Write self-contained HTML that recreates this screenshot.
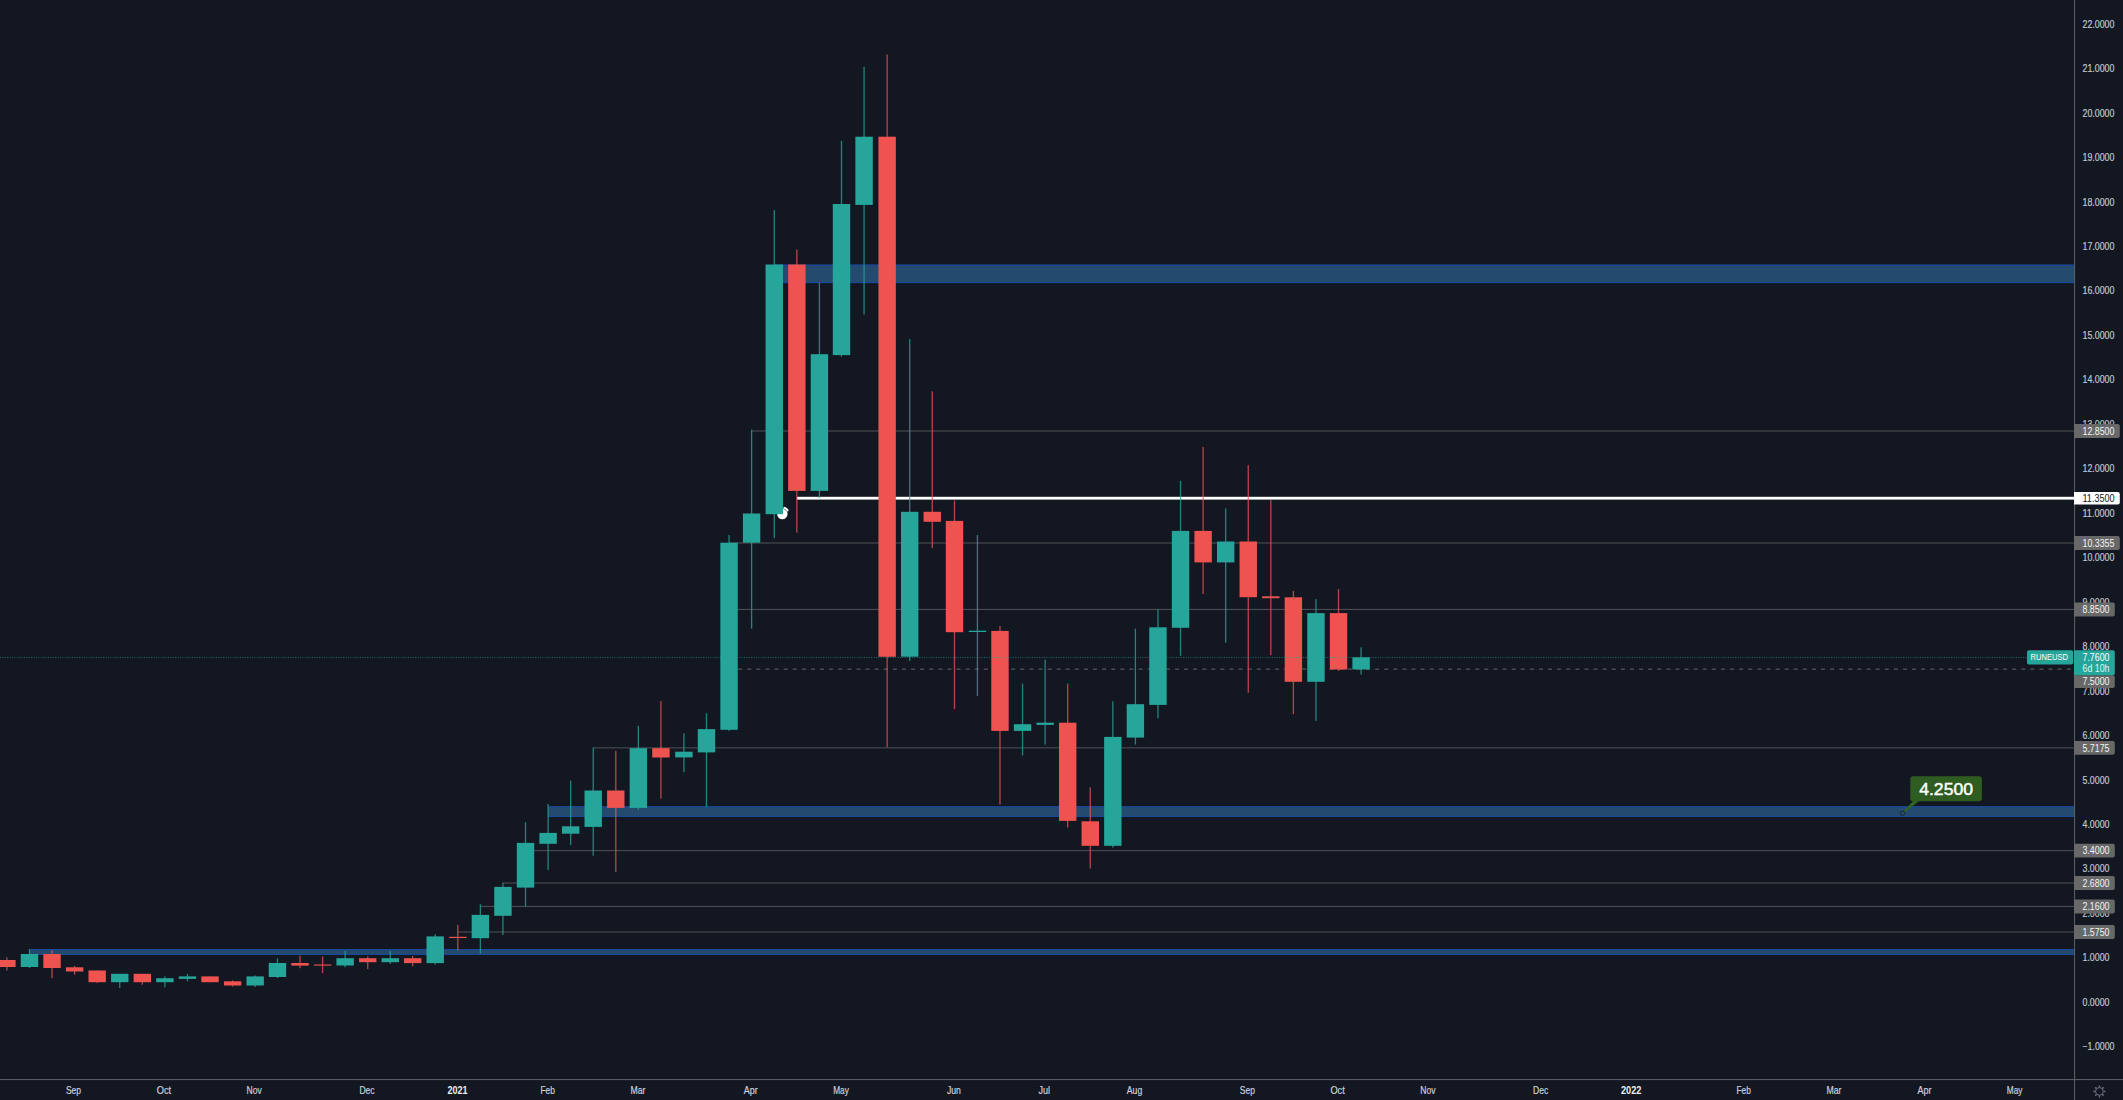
<!DOCTYPE html>
<html lang="en"><head><meta charset="utf-8"><title>RUNEUSD chart</title>
<style>
html,body{margin:0;padding:0;background:#131722;}
body{width:2123px;height:1100px;overflow:hidden;position:relative;font-family:"Liberation Sans",sans-serif;}
svg{position:absolute;left:0;top:0;display:block}
text{font-family:"Liberation Sans",sans-serif;}
.ax{font-size:10.4px;fill:#c1c4cc}
.lb{font-size:9.6px;fill:#f4f4f4}
.tm{font-size:10.3px;fill:#c6c9d0}
.tb{font-size:10.3px;fill:#e6e8ec;font-weight:bold}
</style></head><body>
<svg width="2123" height="1100" viewBox="0 0 2123 1100">
<rect x="0" y="0" width="2123" height="1100" fill="#131722"/>

<g id="zones">
<rect x="774.3" y="264.60" width="1299.7" height="18.50" fill="#244a6e"/>
<rect x="774.3" y="264.60" width="1299.7" height="1.30" fill="#18489a"/>
<rect x="774.3" y="282.00" width="1299.7" height="1.10" fill="#18489a"/>
<rect x="548.1" y="806.25" width="1525.9" height="10.75" fill="#244a6e"/>
<rect x="548.1" y="806.25" width="1525.9" height="1.10" fill="#18489a"/>
<rect x="548.1" y="815.90" width="1525.9" height="1.10" fill="#18489a"/>
<rect x="29.5" y="949.00" width="2044.5" height="6.00" fill="#244a6e"/>
<rect x="29.5" y="949.00" width="2044.5" height="1.05" fill="#18489a"/>
<rect x="29.5" y="953.95" width="2044.5" height="1.05" fill="#18489a"/>
</g>
<g id="hlines">
<rect x="751.6" y="430.45" width="1322.4" height="1.1" fill="#4b4c51"/>
<rect x="729.0" y="542.45" width="1345.0" height="1.1" fill="#4b4c51"/>
<rect x="729.0" y="608.90" width="1345.0" height="1.1" fill="#4b4c51"/>
<rect x="593.2" y="747.30" width="1480.8" height="1.1" fill="#4b4c51"/>
<rect x="525.5" y="850.05" width="1548.5" height="1.1" fill="#4b4c51"/>
<rect x="502.9" y="882.45" width="1571.1" height="1.1" fill="#4b4c51"/>
<rect x="480.4" y="905.90" width="1593.6" height="1.1" fill="#4b4c51"/>
<rect x="457.8" y="931.45" width="1616.2" height="1.1" fill="#4b4c51"/>
<line x1="729.0" y1="669.10" x2="2074.0" y2="669.10" stroke="#56575c" stroke-width="1.3" stroke-dasharray="4.1 5"/>
</g>
<rect x="796.9" y="496.8" width="1277.2" height="2.8" fill="#ffffff"/>
<g id="cursor"><circle cx="782.35" cy="513.95" r="5.2" fill="#ffffff"/><path d="M784.5 508.0 A6.0 6.0 0 0 1 787.4 510.2" fill="none" stroke="#ffffff" stroke-width="2.3" stroke-linecap="round"/><path d="M784.3 509.0 A5.0 5.0 0 0 1 786.8 511.0" fill="none" stroke="#70737c" stroke-width="0.7"/></g>
<g id="candles">
<rect x="6.25" y="957.3" width="1.3" height="13.2" fill="#ef5350" opacity="0.76"/>
<rect x="-1.80" y="960.0" width="17.4" height="7.0" fill="#ef5350"/>
<rect x="28.82" y="949.0" width="1.3" height="19.0" fill="#26a69a" opacity="0.76"/>
<rect x="20.77" y="954.0" width="17.4" height="13.0" fill="#26a69a"/>
<rect x="51.39" y="950.0" width="1.3" height="28.2" fill="#ef5350" opacity="0.76"/>
<rect x="43.34" y="954.0" width="17.4" height="14.0" fill="#ef5350"/>
<rect x="73.96" y="966.0" width="1.3" height="8.7" fill="#ef5350" opacity="0.76"/>
<rect x="65.91" y="967.3" width="17.4" height="4.2" fill="#ef5350"/>
<rect x="96.53" y="970.5" width="1.3" height="12.5" fill="#ef5350" opacity="0.76"/>
<rect x="88.48" y="970.5" width="17.4" height="11.7" fill="#ef5350"/>
<rect x="119.10" y="973.8" width="1.3" height="14.2" fill="#26a69a" opacity="0.76"/>
<rect x="111.05" y="973.8" width="17.4" height="8.4" fill="#26a69a"/>
<rect x="141.67" y="973.8" width="1.3" height="10.9" fill="#ef5350" opacity="0.76"/>
<rect x="133.62" y="973.8" width="17.4" height="8.4" fill="#ef5350"/>
<rect x="164.24" y="976.4" width="1.3" height="10.9" fill="#26a69a" opacity="0.76"/>
<rect x="156.19" y="978.2" width="17.4" height="4.0" fill="#26a69a"/>
<rect x="186.81" y="973.8" width="1.3" height="7.5" fill="#26a69a" opacity="0.76"/>
<rect x="178.76" y="976.4" width="17.4" height="2.5" fill="#26a69a"/>
<rect x="209.38" y="976.4" width="1.3" height="5.8" fill="#ef5350" opacity="0.76"/>
<rect x="201.33" y="976.4" width="17.4" height="5.8" fill="#ef5350"/>
<rect x="231.95" y="980.4" width="1.3" height="6.1" fill="#ef5350" opacity="0.76"/>
<rect x="223.90" y="981.3" width="17.4" height="4.2" fill="#ef5350"/>
<rect x="254.52" y="975.5" width="1.3" height="11.5" fill="#26a69a" opacity="0.76"/>
<rect x="246.47" y="976.4" width="17.4" height="9.1" fill="#26a69a"/>
<rect x="276.79" y="958.2" width="1.3" height="19.8" fill="#26a69a" opacity="0.76"/>
<rect x="268.74" y="963.0" width="17.4" height="14.0" fill="#26a69a"/>
<rect x="299.36" y="955.6" width="1.3" height="12.6" fill="#ef5350" opacity="0.76"/>
<rect x="291.31" y="963.0" width="17.4" height="2.6" fill="#ef5350"/>
<rect x="321.93" y="956.4" width="1.3" height="16.6" fill="#ef5350" opacity="0.76"/>
<rect x="313.88" y="964.5" width="17.4" height="1.1" fill="#ef5350"/>
<rect x="344.50" y="951.0" width="1.3" height="16.3" fill="#26a69a" opacity="0.76"/>
<rect x="336.45" y="958.2" width="17.4" height="7.3" fill="#26a69a"/>
<rect x="367.07" y="956.4" width="1.3" height="12.7" fill="#ef5350" opacity="0.76"/>
<rect x="359.02" y="958.2" width="17.4" height="4.0" fill="#ef5350"/>
<rect x="389.64" y="950.9" width="1.3" height="13.1" fill="#26a69a" opacity="0.76"/>
<rect x="381.59" y="958.2" width="17.4" height="4.0" fill="#26a69a"/>
<rect x="412.01" y="956.0" width="1.3" height="10.4" fill="#ef5350" opacity="0.76"/>
<rect x="403.96" y="958.2" width="17.4" height="4.9" fill="#ef5350"/>
<rect x="434.58" y="934.2" width="1.3" height="30.3" fill="#26a69a" opacity="0.76"/>
<rect x="426.53" y="936.4" width="17.4" height="26.7" fill="#26a69a"/>
<rect x="457.15" y="924.9" width="1.3" height="25.6" fill="#ef5350" opacity="0.76"/>
<rect x="449.10" y="936.8" width="17.4" height="1.2" fill="#ef5350"/>
<rect x="479.72" y="904.2" width="1.3" height="49.4" fill="#26a69a" opacity="0.76"/>
<rect x="471.67" y="914.9" width="17.4" height="23.3" fill="#26a69a"/>
<rect x="502.29" y="882.7" width="1.3" height="52.2" fill="#26a69a" opacity="0.76"/>
<rect x="494.24" y="886.9" width="17.4" height="28.9" fill="#26a69a"/>
<rect x="524.86" y="822.2" width="1.3" height="84.2" fill="#26a69a" opacity="0.76"/>
<rect x="516.81" y="842.9" width="17.4" height="44.7" fill="#26a69a"/>
<rect x="547.43" y="804.0" width="1.3" height="66.0" fill="#26a69a" opacity="0.76"/>
<rect x="539.38" y="832.9" width="17.4" height="10.9" fill="#26a69a"/>
<rect x="570.00" y="780.6" width="1.3" height="64.5" fill="#26a69a" opacity="0.76"/>
<rect x="561.95" y="826.3" width="17.4" height="7.4" fill="#26a69a"/>
<rect x="592.57" y="747.6" width="1.3" height="108.2" fill="#26a69a" opacity="0.76"/>
<rect x="584.52" y="790.5" width="17.4" height="36.4" fill="#26a69a"/>
<rect x="615.14" y="750.9" width="1.3" height="120.9" fill="#ef5350" opacity="0.76"/>
<rect x="607.09" y="790.5" width="17.4" height="17.4" fill="#ef5350"/>
<rect x="637.71" y="725.8" width="1.3" height="83.8" fill="#26a69a" opacity="0.76"/>
<rect x="629.66" y="748.2" width="17.4" height="59.7" fill="#26a69a"/>
<rect x="660.28" y="701.1" width="1.3" height="97.6" fill="#ef5350" opacity="0.76"/>
<rect x="652.23" y="748.2" width="17.4" height="9.3" fill="#ef5350"/>
<rect x="683.25" y="733.3" width="1.3" height="38.9" fill="#26a69a" opacity="0.76"/>
<rect x="675.20" y="751.7" width="17.4" height="5.7" fill="#26a69a"/>
<rect x="705.82" y="713.3" width="1.3" height="93.6" fill="#26a69a" opacity="0.76"/>
<rect x="697.77" y="729.1" width="17.4" height="23.3" fill="#26a69a"/>
<rect x="728.39" y="534.9" width="1.3" height="196.1" fill="#26a69a" opacity="0.76"/>
<rect x="720.34" y="542.7" width="17.4" height="187.1" fill="#26a69a"/>
<rect x="750.96" y="429.6" width="1.3" height="199.1" fill="#26a69a" opacity="0.76"/>
<rect x="742.91" y="513.5" width="17.4" height="29.2" fill="#26a69a"/>
<rect x="773.63" y="210.0" width="1.3" height="328.2" fill="#26a69a" opacity="0.76"/>
<rect x="765.58" y="264.5" width="17.4" height="249.7" fill="#26a69a"/>
<rect x="796.20" y="249.6" width="1.3" height="283.1" fill="#ef5350" opacity="0.76"/>
<rect x="788.15" y="264.5" width="17.4" height="226.4" fill="#ef5350"/>
<rect x="818.77" y="282.7" width="1.3" height="215.5" fill="#26a69a" opacity="0.76"/>
<rect x="810.72" y="354.2" width="17.4" height="136.7" fill="#26a69a"/>
<rect x="840.84" y="140.9" width="1.3" height="215.8" fill="#26a69a" opacity="0.76"/>
<rect x="832.79" y="204.0" width="17.4" height="151.1" fill="#26a69a"/>
<rect x="863.41" y="66.9" width="1.3" height="247.6" fill="#26a69a" opacity="0.76"/>
<rect x="855.36" y="136.7" width="17.4" height="68.2" fill="#26a69a"/>
<rect x="886.48" y="54.5" width="1.3" height="692.8" fill="#ef5350" opacity="0.76"/>
<rect x="878.43" y="136.7" width="17.4" height="520.1" fill="#ef5350"/>
<rect x="909.05" y="339.1" width="1.3" height="321.8" fill="#26a69a" opacity="0.76"/>
<rect x="901.00" y="511.8" width="17.4" height="144.9" fill="#26a69a"/>
<rect x="931.62" y="391.3" width="1.3" height="156.9" fill="#ef5350" opacity="0.76"/>
<rect x="923.57" y="511.8" width="17.4" height="10.0" fill="#ef5350"/>
<rect x="953.84" y="500.4" width="1.3" height="208.7" fill="#ef5350" opacity="0.76"/>
<rect x="945.79" y="520.9" width="17.4" height="111.3" fill="#ef5350"/>
<rect x="976.76" y="534.9" width="1.3" height="161.1" fill="#26a69a" opacity="0.76"/>
<rect x="968.71" y="630.7" width="17.4" height="1.3" fill="#26a69a"/>
<rect x="999.33" y="626.0" width="1.3" height="178.5" fill="#ef5350" opacity="0.76"/>
<rect x="991.28" y="630.9" width="17.4" height="100.0" fill="#ef5350"/>
<rect x="1021.90" y="683.6" width="1.3" height="71.9" fill="#26a69a" opacity="0.76"/>
<rect x="1013.85" y="724.2" width="17.4" height="6.7" fill="#26a69a"/>
<rect x="1044.47" y="659.6" width="1.3" height="84.9" fill="#26a69a" opacity="0.76"/>
<rect x="1036.42" y="722.7" width="17.4" height="2.2" fill="#26a69a"/>
<rect x="1067.04" y="683.6" width="1.3" height="144.0" fill="#ef5350" opacity="0.76"/>
<rect x="1058.99" y="722.7" width="17.4" height="98.2" fill="#ef5350"/>
<rect x="1089.61" y="787.3" width="1.3" height="81.2" fill="#ef5350" opacity="0.76"/>
<rect x="1081.56" y="821.3" width="17.4" height="24.5" fill="#ef5350"/>
<rect x="1112.18" y="701.3" width="1.3" height="146.3" fill="#26a69a" opacity="0.76"/>
<rect x="1104.13" y="736.9" width="17.4" height="108.9" fill="#26a69a"/>
<rect x="1134.75" y="628.7" width="1.3" height="115.8" fill="#26a69a" opacity="0.76"/>
<rect x="1126.70" y="704.2" width="17.4" height="33.4" fill="#26a69a"/>
<rect x="1157.32" y="609.6" width="1.3" height="108.6" fill="#26a69a" opacity="0.76"/>
<rect x="1149.27" y="627.3" width="17.4" height="77.6" fill="#26a69a"/>
<rect x="1179.89" y="480.9" width="1.3" height="174.9" fill="#26a69a" opacity="0.76"/>
<rect x="1171.84" y="530.9" width="17.4" height="96.9" fill="#26a69a"/>
<rect x="1202.46" y="446.9" width="1.3" height="147.1" fill="#ef5350" opacity="0.76"/>
<rect x="1194.41" y="530.9" width="17.4" height="31.5" fill="#ef5350"/>
<rect x="1225.03" y="508.3" width="1.3" height="134.4" fill="#26a69a" opacity="0.76"/>
<rect x="1216.98" y="541.5" width="17.4" height="20.9" fill="#26a69a"/>
<rect x="1247.60" y="465.1" width="1.3" height="227.6" fill="#ef5350" opacity="0.76"/>
<rect x="1239.55" y="541.5" width="17.4" height="55.7" fill="#ef5350"/>
<rect x="1270.17" y="500.0" width="1.3" height="155.1" fill="#ef5350" opacity="0.76"/>
<rect x="1262.12" y="596.3" width="17.4" height="1.9" fill="#ef5350"/>
<rect x="1292.74" y="591.0" width="1.3" height="123.2" fill="#ef5350" opacity="0.76"/>
<rect x="1284.69" y="597.3" width="17.4" height="84.5" fill="#ef5350"/>
<rect x="1315.31" y="599.1" width="1.3" height="121.8" fill="#26a69a" opacity="0.76"/>
<rect x="1307.26" y="613.1" width="17.4" height="68.7" fill="#26a69a"/>
<rect x="1337.88" y="589.1" width="1.3" height="81.8" fill="#ef5350" opacity="0.76"/>
<rect x="1329.83" y="613.1" width="17.4" height="56.4" fill="#ef5350"/>
<rect x="1360.45" y="647.3" width="1.3" height="27.2" fill="#26a69a" opacity="0.76"/>
<rect x="1352.40" y="657.3" width="17.4" height="12.2" fill="#26a69a"/>
</g>
<line x1="0" y1="657.45" x2="2027" y2="657.45" stroke="#26a69a" stroke-width="1" stroke-dasharray="1 1.4" opacity="0.62"/>
<g id="callout">
<path d="M1913.6 800.5 L1919.8 800.5 L1903.3 813.6 L1902.2 812.7 Z" fill="#2d6522"/>
<rect x="1910.3" y="776.35" width="71.6" height="24.9" rx="3" ry="3" fill="#2f5c20"/>
<circle cx="1902.5" cy="813.3" r="2.2" fill="none" stroke="#172742" stroke-width="1"/>
<text transform="translate(1919.20 794.80) scale(1.0533 1)" font-size="16.7" fill="#ffffff" stroke="#ffffff" stroke-width="0.45" stroke-linejoin="round">4.2500</text>
</g>
<rect x="0" y="1079" width="2123" height="1.1" fill="#5a5b60"/>
<rect x="2074.0" y="0" width="1.1" height="1100" fill="#5a5b60"/>
<g id="pticks">
<text transform="translate(2082.50 1050.26) scale(0.8698 1)" font-size="10.1" fill="#c4c7ce" stroke="#c4c7ce" stroke-width="0.18">−1.0000</text>
<text transform="translate(2082.50 1005.80) scale(0.8740 1)" font-size="10.1" fill="#c4c7ce" stroke="#c4c7ce" stroke-width="0.18">0.0000</text>
<text transform="translate(2082.50 961.34) scale(0.8740 1)" font-size="10.1" fill="#c4c7ce" stroke="#c4c7ce" stroke-width="0.18">1.0000</text>
<text transform="translate(2082.50 916.88) scale(0.8740 1)" font-size="10.1" fill="#c4c7ce" stroke="#c4c7ce" stroke-width="0.18">2.0000</text>
<text transform="translate(2082.50 872.42) scale(0.8740 1)" font-size="10.1" fill="#c4c7ce" stroke="#c4c7ce" stroke-width="0.18">3.0000</text>
<text transform="translate(2082.50 827.96) scale(0.8740 1)" font-size="10.1" fill="#c4c7ce" stroke="#c4c7ce" stroke-width="0.18">4.0000</text>
<text transform="translate(2082.50 783.50) scale(0.8740 1)" font-size="10.1" fill="#c4c7ce" stroke="#c4c7ce" stroke-width="0.18">5.0000</text>
<text transform="translate(2082.50 739.04) scale(0.8740 1)" font-size="10.1" fill="#c4c7ce" stroke="#c4c7ce" stroke-width="0.18">6.0000</text>
<text transform="translate(2082.50 694.58) scale(0.8740 1)" font-size="10.1" fill="#c4c7ce" stroke="#c4c7ce" stroke-width="0.18">7.0000</text>
<text transform="translate(2082.50 650.12) scale(0.8740 1)" font-size="10.1" fill="#c4c7ce" stroke="#c4c7ce" stroke-width="0.18">8.0000</text>
<text transform="translate(2082.50 605.66) scale(0.8740 1)" font-size="10.1" fill="#c4c7ce" stroke="#c4c7ce" stroke-width="0.18">9.0000</text>
<text transform="translate(2082.50 561.20) scale(0.8765 1)" font-size="10.1" fill="#c4c7ce" stroke="#c4c7ce" stroke-width="0.18">10.0000</text>
<text transform="translate(2082.50 516.74) scale(0.8949 1)" font-size="10.1" fill="#c4c7ce" stroke="#c4c7ce" stroke-width="0.18">11.0000</text>
<text transform="translate(2082.50 472.28) scale(0.8765 1)" font-size="10.1" fill="#c4c7ce" stroke="#c4c7ce" stroke-width="0.18">12.0000</text>
<text transform="translate(2082.50 427.82) scale(0.8765 1)" font-size="10.1" fill="#c4c7ce" stroke="#c4c7ce" stroke-width="0.18">13.0000</text>
<text transform="translate(2082.50 383.36) scale(0.8765 1)" font-size="10.1" fill="#c4c7ce" stroke="#c4c7ce" stroke-width="0.18">14.0000</text>
<text transform="translate(2082.50 338.90) scale(0.8765 1)" font-size="10.1" fill="#c4c7ce" stroke="#c4c7ce" stroke-width="0.18">15.0000</text>
<text transform="translate(2082.50 294.44) scale(0.8765 1)" font-size="10.1" fill="#c4c7ce" stroke="#c4c7ce" stroke-width="0.18">16.0000</text>
<text transform="translate(2082.50 249.98) scale(0.8765 1)" font-size="10.1" fill="#c4c7ce" stroke="#c4c7ce" stroke-width="0.18">17.0000</text>
<text transform="translate(2082.50 205.52) scale(0.8765 1)" font-size="10.1" fill="#c4c7ce" stroke="#c4c7ce" stroke-width="0.18">18.0000</text>
<text transform="translate(2082.50 161.06) scale(0.8765 1)" font-size="10.1" fill="#c4c7ce" stroke="#c4c7ce" stroke-width="0.18">19.0000</text>
<text transform="translate(2082.50 116.60) scale(0.8765 1)" font-size="10.1" fill="#c4c7ce" stroke="#c4c7ce" stroke-width="0.18">20.0000</text>
<text transform="translate(2082.50 72.14) scale(0.8765 1)" font-size="10.1" fill="#c4c7ce" stroke="#c4c7ce" stroke-width="0.18">21.0000</text>
<text transform="translate(2082.50 27.68) scale(0.8765 1)" font-size="10.1" fill="#c4c7ce" stroke="#c4c7ce" stroke-width="0.18">22.0000</text>
</g>
<g id="plabels">
<path d="M2074.0 424.1 H2117.8 Q2119.8 424.1 2119.8 426.1 V435.9 Q2119.8 437.9 2117.8 437.9 H2074.0 Z" fill="#686868"/>
<text transform="translate(2082.50 434.80) scale(0.8765 1)" font-size="10.1" fill="#f4f4f4">12.8500</text>
<path d="M2074.0 536.1 H2117.8 Q2119.8 536.1 2119.8 538.1 V547.9 Q2119.8 549.9 2117.8 549.9 H2074.0 Z" fill="#686868"/>
<text transform="translate(2082.50 546.80) scale(0.8765 1)" font-size="10.1" fill="#f4f4f4">10.3355</text>
<path d="M2074.0 602.6 H2112.8 Q2114.8 602.6 2114.8 604.6 V614.4 Q2114.8 616.4 2112.8 616.4 H2074.0 Z" fill="#686868"/>
<text transform="translate(2082.50 613.25) scale(0.8740 1)" font-size="10.1" fill="#f4f4f4">8.8500</text>
<path d="M2074.0 741.0 H2112.8 Q2114.8 741.0 2114.8 743.0 V752.8 Q2114.8 754.8 2112.8 754.8 H2074.0 Z" fill="#686868"/>
<text transform="translate(2082.50 751.65) scale(0.8740 1)" font-size="10.1" fill="#f4f4f4">5.7175</text>
<path d="M2074.0 843.7 H2112.8 Q2114.8 843.7 2114.8 845.7 V855.5 Q2114.8 857.5 2112.8 857.5 H2074.0 Z" fill="#686868"/>
<text transform="translate(2082.50 854.40) scale(0.8740 1)" font-size="10.1" fill="#f4f4f4">3.4000</text>
<path d="M2074.0 876.1 H2112.8 Q2114.8 876.1 2114.8 878.1 V887.9 Q2114.8 889.9 2112.8 889.9 H2074.0 Z" fill="#686868"/>
<text transform="translate(2082.50 886.80) scale(0.8740 1)" font-size="10.1" fill="#f4f4f4">2.6800</text>
<path d="M2074.0 899.6 H2112.8 Q2114.8 899.6 2114.8 901.6 V911.4 Q2114.8 913.4 2112.8 913.4 H2074.0 Z" fill="#686868"/>
<text transform="translate(2082.50 910.25) scale(0.8740 1)" font-size="10.1" fill="#f4f4f4">2.1600</text>
<path d="M2074.0 925.1 H2112.8 Q2114.8 925.1 2114.8 927.1 V936.9 Q2114.8 938.9 2112.8 938.9 H2074.0 Z" fill="#686868"/>
<text transform="translate(2082.50 935.80) scale(0.8740 1)" font-size="10.1" fill="#f4f4f4">1.5750</text>
<path d="M2074.0 675.2 H2112.8 Q2114.8 675.2 2114.8 677.2 V685.9 Q2114.8 687.9 2112.8 687.9 H2074.0 Z" fill="#686868"/>
<text transform="translate(2082.50 685.35) scale(0.8740 1)" font-size="10.1" fill="#f4f4f4">7.5000</text>
<path d="M2074.0 491.9 H2117.8 Q2119.8 491.9 2119.8 493.9 V502.4 Q2119.8 504.4 2117.8 504.4 H2074.0 Z" fill="#ffffff"/>
<text transform="translate(2082.50 501.95) scale(0.8949 1)" font-size="10.1" fill="#131722">11.3500</text>
<path d="M2074.0 650.2 H2112.8 Q2114.8 650.2 2114.8 652.2 V673.2 Q2114.8 675.2 2112.8 675.2 H2074.0 Z" fill="#26a69a"/>
<text transform="translate(2082.50 660.70) scale(0.8740 1)" font-size="10.1" fill="#ffffff">7.7600</text>
<text transform="translate(2082.50 671.70) scale(0.8740 1)" font-size="10.1" fill="#e4f4f2">6d 10h</text>
<rect x="2027" y="650.2" width="46.2" height="14.3" rx="2" ry="2" fill="#26a69a"/>
<text transform="translate(2030.60 660.10) scale(0.9004 1)" font-size="8.4" fill="#ffffff">RUNEUSD</text>
</g>
<g id="tlabels">
<text transform="translate(65.90 1093.50) scale(0.8543 1)" font-size="10.0" fill="#cdd0d6" stroke="#cdd0d6" stroke-width="0.2">Sep</text>
<text transform="translate(156.70 1093.50) scale(0.9257 1)" font-size="10.0" fill="#cdd0d6" stroke="#cdd0d6" stroke-width="0.2">Oct</text>
<text transform="translate(246.60 1093.50) scale(0.8547 1)" font-size="10.0" fill="#cdd0d6" stroke="#cdd0d6" stroke-width="0.2">Nov</text>
<text transform="translate(359.40 1093.50) scale(0.8547 1)" font-size="10.0" fill="#cdd0d6" stroke="#cdd0d6" stroke-width="0.2">Dec</text>
<text transform="translate(447.40 1093.50) scale(0.8990 1)" font-size="10.0" fill="#eceef1" font-weight="bold">2021</text>
<text transform="translate(540.45 1093.50) scale(0.8415 1)" font-size="10.0" fill="#cdd0d6" stroke="#cdd0d6" stroke-width="0.2">Feb</text>
<text transform="translate(630.50 1093.50) scale(0.8710 1)" font-size="10.0" fill="#cdd0d6" stroke="#cdd0d6" stroke-width="0.2">Mar</text>
<text transform="translate(743.80 1093.50) scale(0.8996 1)" font-size="10.0" fill="#cdd0d6" stroke="#cdd0d6" stroke-width="0.2">Apr</text>
<text transform="translate(833.20 1093.50) scale(0.8258 1)" font-size="10.0" fill="#cdd0d6" stroke="#cdd0d6" stroke-width="0.2">May</text>
<text transform="translate(946.90 1093.50) scale(0.8683 1)" font-size="10.0" fill="#cdd0d6" stroke="#cdd0d6" stroke-width="0.2">Jun</text>
<text transform="translate(1038.45 1093.50) scale(0.8996 1)" font-size="10.0" fill="#cdd0d6" stroke="#cdd0d6" stroke-width="0.2">Jul</text>
<text transform="translate(1126.80 1093.50) scale(0.8655 1)" font-size="10.0" fill="#cdd0d6" stroke="#cdd0d6" stroke-width="0.2">Aug</text>
<text transform="translate(1239.70 1093.50) scale(0.8543 1)" font-size="10.0" fill="#cdd0d6" stroke="#cdd0d6" stroke-width="0.2">Sep</text>
<text transform="translate(1330.40 1093.50) scale(0.9257 1)" font-size="10.0" fill="#cdd0d6" stroke="#cdd0d6" stroke-width="0.2">Oct</text>
<text transform="translate(1420.30 1093.50) scale(0.8547 1)" font-size="10.0" fill="#cdd0d6" stroke="#cdd0d6" stroke-width="0.2">Nov</text>
<text transform="translate(1533.10 1093.50) scale(0.8547 1)" font-size="10.0" fill="#cdd0d6" stroke="#cdd0d6" stroke-width="0.2">Dec</text>
<text transform="translate(1621.00 1093.50) scale(0.9170 1)" font-size="10.0" fill="#eceef1" font-weight="bold">2022</text>
<text transform="translate(1736.45 1093.50) scale(0.8415 1)" font-size="10.0" fill="#cdd0d6" stroke="#cdd0d6" stroke-width="0.2">Feb</text>
<text transform="translate(1826.50 1093.50) scale(0.8710 1)" font-size="10.0" fill="#cdd0d6" stroke="#cdd0d6" stroke-width="0.2">Mar</text>
<text transform="translate(1917.40 1093.50) scale(0.8996 1)" font-size="10.0" fill="#cdd0d6" stroke="#cdd0d6" stroke-width="0.2">Apr</text>
<text transform="translate(2006.80 1093.50) scale(0.8258 1)" font-size="10.0" fill="#cdd0d6" stroke="#cdd0d6" stroke-width="0.2">May</text>
</g>
<g id="gear"><circle cx="2099.4" cy="1091.4" r="3.85" fill="none" stroke="#6d7180" stroke-width="1.0"/>
<path d="M2103.60 1092.45 L2106.10 1091.40 L2103.60 1090.35 Z M2101.63 1095.11 L2104.14 1096.14 L2103.11 1093.63 Z M2098.35 1095.60 L2099.40 1098.10 L2100.45 1095.60 Z M2095.69 1093.63 L2094.66 1096.14 L2097.17 1095.11 Z M2095.20 1090.35 L2092.70 1091.40 L2095.20 1092.45 Z M2097.17 1087.69 L2094.66 1086.66 L2095.69 1089.17 Z M2100.45 1087.20 L2099.40 1084.70 L2098.35 1087.20 Z M2103.11 1089.17 L2104.14 1086.66 L2101.63 1087.69 Z " fill="#6d7180"/></g>
</svg></body></html>
